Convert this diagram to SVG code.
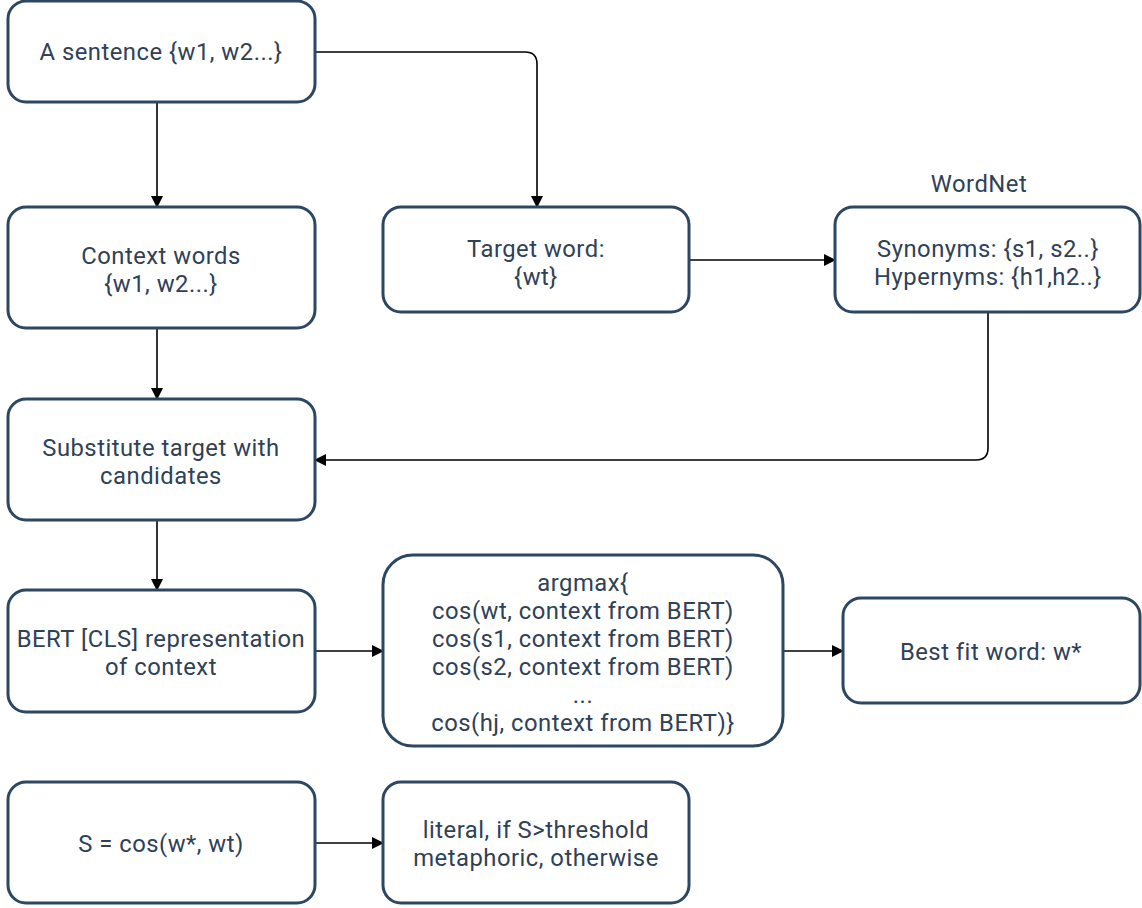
<svg xmlns="http://www.w3.org/2000/svg" width="1142" height="908" viewBox="0 0 1142 908">
  <defs>
    <marker id="arrow" markerWidth="12" markerHeight="12" refX="11" refY="6" orient="auto" markerUnits="userSpaceOnUse">
      <path d="M0,0 L12,6 L0,12 Z" fill="#000"/>
    </marker>
    <style>
      .box { fill: #fff; stroke: #2c4762; stroke-width: 3; }
      .lbl { font-family: Roboto, "Liberation Sans", sans-serif; font-size: 23.8px; letter-spacing: 0.5px; fill: #2f4157; text-anchor: middle; }
      .edge { fill: none; stroke: #000; stroke-width: 1.6; marker-end: url(#arrow); }
    </style>
  </defs>
  <rect width="1142" height="908" fill="#fff"/>

  <g id="connectors">
    <path class="edge" d="M157,102 V207"/>
    <path class="edge" d="M315,52 H525 Q537,52 537,64 V207"/>
    <path class="edge" d="M689,260 H835"/>
    <path class="edge" d="M988,312 V448 Q988,460 976,460 H315"/>
    <path class="edge" d="M157,328 V399"/>
    <path class="edge" d="M157,520 V590"/>
    <path class="edge" d="M315,651 H383"/>
    <path class="edge" d="M783,651 H843"/>
    <path class="edge" d="M315,843 H383"/>
  </g>

  <g id="sentence">
    <rect class="box" x="8" y="1" width="307" height="101" rx="18"/>
    <text class="lbl" x="161" y="60">A sentence {w1, w2...}</text>
  </g>

  <g id="context-words">
    <rect class="box" x="8" y="207" width="307" height="121" rx="18"/>
    <text class="lbl" x="161" y="264">Context words<tspan x="161" dy="28">{w1, w2...}</tspan></text>
  </g>

  <g id="target-word">
    <rect class="box" x="383" y="207" width="306" height="105" rx="18"/>
    <text class="lbl" x="536" y="257">Target word:<tspan x="536" dy="28">{wt}</tspan></text>
  </g>

  <g id="wordnet">
    <text class="lbl" x="979" y="192">WordNet</text>
    <rect class="box" x="835" y="207" width="305" height="105" rx="18"/>
    <text class="lbl" x="988" y="257">Synonyms: {s1, s2..}<tspan x="988" dy="28">Hypernyms: {h1,h2..}</tspan></text>
  </g>

  <g id="substitute">
    <rect class="box" x="8" y="399" width="307" height="121" rx="18"/>
    <text class="lbl" x="161" y="456">Substitute target with<tspan x="161" dy="28">candidates</tspan></text>
  </g>

  <g id="bert-cls">
    <rect class="box" x="8" y="590" width="307" height="122" rx="18"/>
    <text class="lbl" x="161" y="647">BERT [CLS] representation<tspan x="161" dy="28">of context</tspan></text>
  </g>

  <g id="argmax">
    <rect class="box" x="383" y="555" width="400" height="191" rx="30"/>
    <text class="lbl" x="583" y="591">argmax{<tspan x="583" dy="28">cos(wt, context from BERT)</tspan><tspan x="583" dy="28">cos(s1, context from BERT)</tspan><tspan x="583" dy="28">cos(s2, context from BERT)</tspan><tspan x="583" dy="28">...</tspan><tspan x="583" dy="28">cos(hj, context from BERT)}</tspan></text>
  </g>

  <g id="best-fit">
    <rect class="box" x="843" y="598" width="297" height="105" rx="18"/>
    <text class="lbl" x="991" y="660">Best fit word: w*</text>
  </g>

  <g id="score">
    <rect class="box" x="8" y="782" width="307" height="121" rx="18"/>
    <text class="lbl" x="161" y="852">S = cos(w*, wt)</text>
  </g>

  <g id="decision">
    <rect class="box" x="383" y="782" width="306" height="121" rx="18"/>
    <text class="lbl" x="536" y="838">literal, if S&gt;threshold<tspan x="536" dy="28">metaphoric, otherwise</tspan></text>
  </g>
</svg>
